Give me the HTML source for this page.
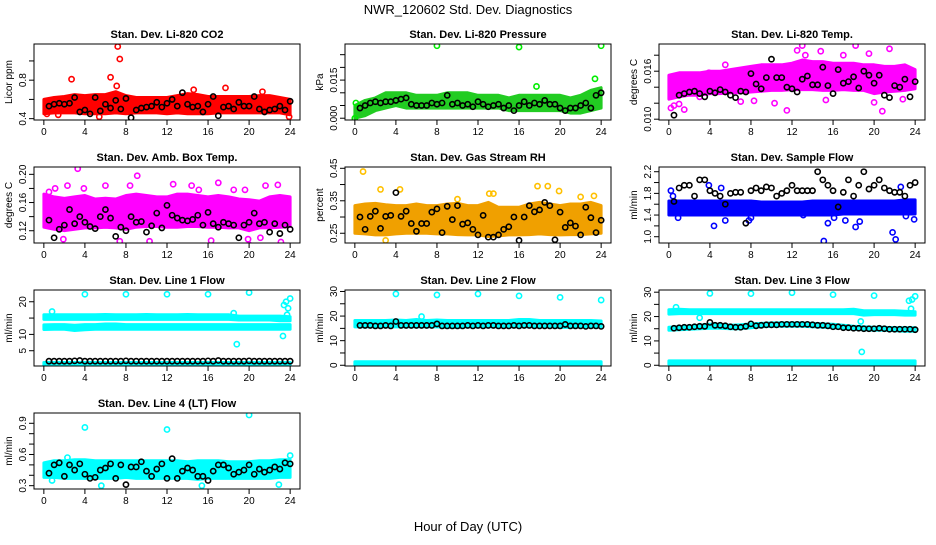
<!DOCTYPE html>
<html><head><meta charset="utf-8"><style>
body{margin:0;background:#fff;}
svg text{font-family:"Liberation Sans",Arial,sans-serif;}
</style></head><body>
<svg id="chart" width="936" height="540" viewBox="0 0 936 540" xmlns="http://www.w3.org/2000/svg">
<text x="468" y="14" font-size="13" text-anchor="middle">NWR_120602  Std. Dev. Diagnostics</text>
<text x="468" y="531" font-size="13" text-anchor="middle">Hour of Day (UTC)</text>
</svg>
<script>
const xTicks=[0,4,8,12,16,20,24];
const bandHours=[0,1,2,3,4,5,6,7,8,9,10,11,12,13,14,15,16,17,18,19,20,21,22,23,24];
const blackHours=[0.5,1,1.5,2,2.5,3,3.5,4,4.5,5,5.5,6,6.5,7,7.5,8,8.5,9,9.5,10,10.5,11,11.5,12,12.5,13,13.5,14,14.5,15,15.5,16,16.5,17,17.5,18,18.5,19,19.5,20,20.5,21,21.5,22,22.5,23,23.5,24];

// Panel 1 CO2
const co2Lo=[0.45,0.46,0.46,0.46,0.45,0.45,0.45,0.46,0.45,0.46,0.46,0.46,0.45,0.46,0.45,0.45,0.45,0.46,0.46,0.46,0.46,0.46,0.46,0.46,0.44];
const co2Hi=[0.60,0.62,0.63,0.65,0.64,0.65,0.65,0.68,0.64,0.62,0.62,0.62,0.62,0.64,0.66,0.65,0.63,0.63,0.63,0.63,0.63,0.64,0.64,0.62,0.60];
const co2OutH=[7.2,7.4,6.5,2.7,7.1,17.7,5.4,23.9,1.4,0.3,14.6,21.3];
const co2OutV=[1.15,1.02,0.83,0.81,0.74,0.72,0.42,0.42,0.44,0.45,0.70,0.68];
const co2Black=[0.53,0.55,0.56,0.55,0.56,0.62,0.47,0.49,0.45,0.62,0.48,0.55,0.51,0.59,0.50,0.61,0.41,0.49,0.51,0.52,0.53,0.57,0.52,0.56,0.60,0.53,0.67,0.55,0.52,0.53,0.47,0.55,0.63,0.43,0.52,0.53,0.50,0.57,0.53,0.53,0.63,0.50,0.47,0.49,0.50,0.53,0.49,0.58];
// Panel 2 pressure
const prLo=[0.000,0.001,0.003,0.004,0.005,0.004,0.004,0.004,0.004,0.004,0.004,0.004,0.004,0.004,0.004,0.003,0.003,0.003,0.003,0.003,0.003,0.002,0.002,0.003,0.004];
const prHi=[0.005,0.007,0.008,0.010,0.010,0.010,0.009,0.009,0.009,0.010,0.010,0.010,0.009,0.009,0.009,0.008,0.009,0.009,0.009,0.009,0.009,0.008,0.009,0.011,0.012];
const prOutH=[8,16,24,23.4,17.7,0,0.1];
const prOutV=[0.0285,0.028,0.0285,0.0155,0.0125,0.0,0.006];
const prBlack=[0.004,0.005,0.006,0.0065,0.006,0.0065,0.0065,0.007,0.0075,0.008,0.0055,0.005,0.005,0.005,0.006,0.0055,0.006,0.009,0.0055,0.006,0.005,0.0055,0.0045,0.0065,0.0055,0.0045,0.005,0.0055,0.004,0.005,0.003,0.005,0.0065,0.005,0.006,0.0055,0.007,0.0055,0.0055,0.004,0.003,0.004,0.004,0.005,0.006,0.004,0.009,0.010];
// Panel 3 Li-820 temp
const ltLo=[0.0125,0.0128,0.0130,0.0130,0.0132,0.0132,0.0133,0.0133,0.0134,0.0135,0.0136,0.0136,0.0137,0.0137,0.0137,0.0136,0.0136,0.0137,0.0136,0.0136,0.0132,0.0134,0.0135,0.0136,0.0138];
const ltHi=[0.0155,0.0158,0.0158,0.0158,0.0160,0.0160,0.0162,0.0164,0.0166,0.0168,0.0168,0.0168,0.0170,0.0174,0.0172,0.0172,0.0170,0.0170,0.0170,0.0168,0.0168,0.0166,0.0166,0.0168,0.0162];
const ltOutH=[0.2,0.5,1.0,1.5,1.8,2.5,3.0,5.5,7.0,8.3,10.3,11.5,13.0,13.3,14.8,15.3,18.2,19.5,20.0,20.8,21.5,22.8,3.9,12.5,17.0];
const ltOutV=[0.0114,0.0117,0.0119,0.0112,0.0147,0.0155,0.0128,0.0168,0.0122,0.0123,0.0120,0.0111,0.0192,0.0180,0.0185,0.0124,0.0192,0.0182,0.0121,0.0110,0.0188,0.0125,0.0158,0.0186,0.0180];
const ltBlack=[0.0105,0.0130,0.0132,0.0134,0.0135,0.0132,0.0128,0.0135,0.0133,0.0137,0.0134,0.0130,0.0127,0.0135,0.0134,0.0157,0.0144,0.0138,0.0152,0.0175,0.0152,0.0152,0.0140,0.0138,0.0134,0.0150,0.0154,0.0143,0.0143,0.0165,0.0142,0.0132,0.0162,0.0145,0.0147,0.0153,0.0139,0.0160,0.0155,0.0145,0.0155,0.0130,0.0127,0.0142,0.0140,0.0150,0.0128,0.0147];
// Panel 4 amb box temp
const abLo=[0.125,0.122,0.120,0.122,0.124,0.124,0.125,0.124,0.122,0.125,0.126,0.126,0.125,0.125,0.126,0.126,0.125,0.125,0.124,0.124,0.120,0.124,0.124,0.125,0.126];
const abHi=[0.172,0.168,0.166,0.168,0.170,0.165,0.166,0.165,0.170,0.172,0.170,0.168,0.168,0.172,0.172,0.170,0.168,0.170,0.168,0.165,0.164,0.162,0.168,0.170,0.168];
const abOutH=[0.5,1.1,2.3,3.3,3.9,6.0,7.4,8.4,9.1,10.3,14.4,15.1,17.0,18.5,19.9,19.6,20.0,21.1,21.6,22.8,23.1,1.9,12.6,16.3];
const abOutV=[0.175,0.180,0.184,0.208,0.180,0.184,0.105,0.184,0.198,0.105,0.184,0.178,0.188,0.178,0.108,0.178,0.100,0.110,0.184,0.185,0.104,0.108,0.186,0.106];
const abBlack=[0.135,0.110,0.122,0.128,0.150,0.130,0.140,0.132,0.126,0.123,0.140,0.150,0.138,0.112,0.125,0.120,0.140,0.132,0.133,0.118,0.127,0.145,0.124,0.156,0.142,0.138,0.135,0.134,0.136,0.142,0.128,0.146,0.130,0.125,0.132,0.130,0.128,0.110,0.128,0.132,0.145,0.130,0.132,0.118,0.130,0.116,0.128,0.122];
// Panel 5 gas stream RH
const rhLo=[0.250,0.248,0.245,0.245,0.248,0.250,0.250,0.250,0.248,0.248,0.246,0.245,0.245,0.240,0.242,0.245,0.245,0.246,0.248,0.246,0.245,0.246,0.246,0.248,0.250];
const rhHi=[0.335,0.340,0.342,0.338,0.335,0.335,0.340,0.335,0.335,0.340,0.342,0.335,0.335,0.345,0.330,0.330,0.330,0.340,0.345,0.340,0.335,0.340,0.340,0.345,0.335];
const rhOutH=[0.8,2.5,4.4,10.0,13.1,13.5,17.8,18.8,19.9,22.0,23.3,3.0];
const rhOutV=[0.440,0.385,0.385,0.355,0.372,0.372,0.395,0.395,0.380,0.362,0.365,0.228];
const rhBlack=[0.300,0.262,0.302,0.318,0.265,0.302,0.305,0.375,0.302,0.318,0.280,0.256,0.280,0.280,0.315,0.325,0.252,0.333,0.292,0.335,0.278,0.282,0.262,0.245,0.305,0.238,0.238,0.245,0.262,0.270,0.300,0.228,0.300,0.335,0.316,0.322,0.345,0.335,0.230,0.315,0.268,0.282,0.272,0.245,0.330,0.298,0.252,0.290];
// Panel 6 sample flow
const sfLo=[1.40,1.40,1.40,1.40,1.40,1.40,1.40,1.40,1.40,1.40,1.40,1.40,1.40,1.40,1.40,1.40,1.40,1.42,1.42,1.42,1.42,1.42,1.42,1.42,1.42];
const sfHi=[1.66,1.66,1.66,1.66,1.66,1.66,1.66,1.66,1.66,1.64,1.64,1.64,1.64,1.64,1.66,1.66,1.66,1.66,1.66,1.66,1.66,1.66,1.66,1.68,1.68];
const sfOutH=[0.2,0.4,0.9,3.9,4.4,5.1,5.5,7.8,8.0,15.1,15.5,16.1,17.2,18.2,18.6,21.8,22.1,23.1,23.9,13.1,22.6];
const sfOutV=[1.85,1.75,1.35,1.95,1.20,1.90,1.30,1.30,1.35,0.92,1.25,1.35,1.30,1.18,1.28,1.08,0.95,1.38,1.32,1.40,1.92];
const sfBlack=[1.65,1.90,1.95,1.95,1.75,2.05,2.05,1.85,1.80,1.75,1.60,1.80,1.82,1.82,1.25,1.85,1.90,1.85,1.92,1.90,1.75,1.80,1.85,1.95,1.85,1.85,1.85,1.85,2.20,2.05,1.95,1.85,1.55,1.82,2.05,1.75,1.95,2.20,1.88,1.95,2.05,1.90,1.85,1.82,1.82,1.75,1.95,2.00];
// Panel 7 line 1 flow
const l1aLo=[14.6,14.6,14.6,14.6,14.6,14.6,14.6,14.6,14.6,14.6,14.6,14.6,14.6,14.6,14.6,14.6,14.6,14.6,14.6,14.4,14.4,14.4,14.4,14.2,14.2];
const l1aHi=[16.0,16.0,16.0,16.0,16.0,16.0,16.1,16.0,16.0,16.0,16.1,16.0,16.0,16.0,16.1,16.0,16.0,16.0,16.0,15.6,15.6,15.6,15.6,15.6,15.4];
const l1bLo=[11.5,11.6,11.6,11.2,11.4,11.6,11.6,11.6,11.6,11.6,11.6,11.6,11.6,11.6,11.6,11.6,11.6,11.6,11.6,11.6,11.6,11.6,11.6,11.6,11.6];
const l1bHi=[12.9,13.0,13.0,12.8,13.0,13.0,13.2,13.2,13.0,13.0,13.0,13.0,13.0,13.0,13.0,13.0,13.0,13.0,13.0,13.0,13.0,13.0,13.0,13.0,13.0];
const l1cLo=[0.4,0.4,0.4,0.4,0.4,0.4,0.4,0.4,0.4,0.4,0.4,0.4,0.4,0.4,0.4,0.4,0.4,0.4,0.4,0.4,0.4,0.4,0.4,0.4,0.4];
const l1cHi=[1.4,1.4,1.4,1.4,1.4,1.4,1.4,1.4,1.4,1.4,1.4,1.4,1.4,1.4,1.4,1.4,1.4,1.4,1.4,1.4,1.4,1.4,1.4,1.4,1.4];
const l1OutH=[4,8,12,16,20,23.6,23.4,23.8,23.7,24,23.3,18.8,0.8,18.5];
const l1OutV=[22.3,22.3,22.3,22.3,22.8,20.0,19.0,18.0,16.0,21.0,9.5,7.0,17.0,16.5];
const l1Black=[1.8,1.8,1.8,1.8,1.8,1.9,2.0,1.8,1.8,1.8,1.8,1.8,1.8,1.8,1.8,1.9,1.8,1.8,1.8,1.8,1.8,1.8,1.8,1.8,1.8,1.8,1.8,1.8,1.8,1.8,1.8,1.9,1.8,2.0,1.8,1.8,1.8,1.8,1.8,1.9,1.8,1.8,1.8,1.8,1.8,1.8,1.8,1.8];
// Panel 8 line 2 flow
const l2aLo=[15.6,15.6,15.6,15.6,15.6,15.6,15.6,15.6,15.6,15.4,15.4,15.6,15.6,15.6,15.6,15.6,15.6,15.6,15.6,15.6,15.4,15.4,15.6,15.6,15.6];
const l2aHi=[18.2,18.2,18.2,18.2,18.4,18.2,18.6,18.2,18.4,18.2,18.2,18.2,18.2,18.2,18.2,18.2,18.6,18.6,18.2,18.2,18.2,18.2,18.2,18.2,18.0];
const l2cLo=[0.0,0.0,0.0,0.0,0.0,0.0,0.0,0.0,0.0,0.0,0.0,0.0,0.0,0.0,0.0,0.0,0.0,0.0,0.0,0.0,0.0,0.0,0.0,0.0,0.0];
const l2cHi=[1.4,1.4,1.4,1.4,1.4,1.4,1.4,1.4,1.4,1.4,1.4,1.4,1.4,1.4,1.4,1.4,1.4,1.4,1.4,1.4,1.4,1.4,1.4,1.4,1.4];
const l2OutH=[4,8,12,16,20,24,6.5];
const l2OutV=[29.0,28.6,29.0,28.2,27.6,26.5,19.8];
const l2Black=[16.2,16.2,16.2,16.0,16.0,16.2,16.0,17.8,16.2,16.2,16.2,16.2,16.2,16.2,16.2,16.8,16.0,16.0,16.0,16.0,16.0,16.2,16.0,16.2,16.0,16.2,16.2,16.0,16.0,16.0,16.2,16.0,16.2,16.2,16.0,16.0,16.0,16.0,16.0,16.0,16.6,16.0,16.0,16.0,15.8,16.0,16.0,15.8];
// Panel 9 line 3 flow
const l3aLo=[21.0,21.2,21.2,21.2,21.2,21.2,21.2,21.2,21.2,21.2,21.2,21.2,21.2,21.2,21.2,21.2,21.2,21.2,21.2,20.6,20.8,20.8,20.8,20.6,20.6];
const l3aHi=[22.8,23.0,22.8,22.8,22.8,22.8,22.8,22.8,22.8,22.8,22.8,22.8,22.8,22.8,22.8,22.8,22.8,22.8,23.0,22.4,22.4,22.4,22.4,22.2,22.0];
const l3bLo=[14.4,14.6,14.8,15.0,15.2,15.2,15.0,15.0,15.4,15.8,16.0,16.0,16.0,16.0,15.8,15.6,15.4,15.2,14.8,14.6,14.4,14.4,14.2,14.0,14.0];
const l3bHi=[15.6,15.8,16.0,16.4,16.8,16.8,16.4,16.6,17.0,17.2,17.4,17.4,17.4,17.4,17.2,17.0,16.8,16.4,16.0,15.8,15.6,15.6,15.4,15.4,15.4];
const l3cLo=[0.4,0.4,0.4,0.4,0.4,0.4,0.4,0.4,0.4,0.4,0.4,0.4,0.4,0.4,0.4,0.4,0.4,0.4,0.4,0.4,0.4,0.4,0.4,0.4,0.4];
const l3cHi=[1.8,1.8,1.8,1.8,1.8,1.8,1.8,1.8,1.8,1.8,1.8,1.8,1.8,1.8,1.8,1.8,1.8,1.8,1.8,1.8,1.8,1.8,1.8,1.8,1.8];
const l3OutH=[4,8,12,16,20,24,23.4,23.7,23.6,18.8,18.7,0.7,3.0];
const l3OutV=[29.5,29.4,29.8,29.0,28.6,28.3,26.5,27.0,23.2,5.5,18.0,23.8,19.5];
const l3Black=[15.2,15.4,15.6,15.6,15.8,16.0,16.0,17.6,16.4,16.4,16.2,15.8,15.6,15.6,16.0,17.0,16.2,16.4,16.6,16.6,16.6,16.8,16.8,16.8,16.8,16.8,16.8,16.6,16.4,16.4,16.2,15.8,15.8,15.4,15.4,15.2,15.2,15.0,15.0,15.0,15.2,15.0,14.8,14.8,14.8,14.8,14.8,14.6];
// Panel 10 line 4 flow
const l4Lo=[0.38,0.38,0.37,0.37,0.37,0.37,0.37,0.37,0.38,0.37,0.37,0.37,0.37,0.37,0.37,0.36,0.37,0.37,0.37,0.37,0.37,0.37,0.37,0.38,0.38];
const l4Hi=[0.52,0.54,0.54,0.55,0.55,0.54,0.54,0.54,0.54,0.54,0.54,0.54,0.54,0.54,0.53,0.54,0.54,0.54,0.53,0.53,0.53,0.54,0.54,0.55,0.55];
const l4OutH=[4,12,20,24,5.6,15.4,22.9,0.8,2.3];
const l4OutV=[0.86,0.84,0.98,0.59,0.30,0.30,0.31,0.35,0.57];
const l4Black=[0.42,0.50,0.52,0.39,0.50,0.45,0.51,0.41,0.37,0.38,0.45,0.47,0.51,0.37,0.50,0.31,0.48,0.48,0.53,0.44,0.39,0.46,0.51,0.37,0.56,0.37,0.44,0.47,0.45,0.39,0.39,0.35,0.44,0.50,0.50,0.47,0.41,0.43,0.45,0.50,0.41,0.46,0.43,0.45,0.48,0.46,0.52,0.51];

const NS='http://www.w3.org/2000/svg';
const svg=document.getElementById('chart');
const colL=[34,345,659], W=266, rowB=[120,243,366,489], H=76;
function mk(tag,attrs,parent){const e=document.createElementNS(NS,tag);for(const k in attrs)e.setAttribute(k,attrs[k]);(parent||svg).appendChild(e);return e;}

function panel(p){
  const L=colL[p.col], B=rowB[p.row], T=B-H, R=L+W;
  const g=mk('g',{});
  
  
  const xs=h=>L+(h+0.96)/25.92*W;
  const ys=v=>B-(v-p.yd[0])/(p.yd[1]-p.yd[0])*H;
  const clip='c'+p.name;
  const cp=mk('clipPath',{id:clip},g);mk('rect',{x:L,y:T,width:W,height:H},cp);
  const pg=mk('g',{'clip-path':'url(#'+clip+')'},g);
  p.bands.forEach(b=>{
    let d='';
    bandHours.forEach((h,i)=>{d+=(i?'L':'M')+xs(h).toFixed(1)+','+ys(b[1][i]).toFixed(1);});
    for(let i=bandHours.length-1;i>=0;i--)d+='L'+xs(bandHours[i]).toFixed(1)+','+ys(b[0][i]).toFixed(1);
    const e=mk('path',{d:d+'Z',fill:p.fill,stroke:p.fill,'stroke-width':3,'stroke-linejoin':'round'},pg);
    
    
  });
  p.outH.forEach((h,i)=>{
    const c=mk('circle',{cx:xs(h),cy:ys(p.outV[i]),r:2.6,fill:'none',stroke:p.col2,'stroke-width':1.6},pg);
    
    
  });
  blackHours.forEach((h,i)=>{
    const c=mk('circle',{cx:xs(h),cy:ys(p.black[i]),r:2.6,fill:'none',stroke:'#000','stroke-width':1.6},pg);
    
    
  });
  const box=mk('rect',{x:L,y:T,width:W,height:H,fill:'none',stroke:'#000','stroke-width':1},g);
  
  
  xTicks.forEach(t=>{
    const x=xs(t);
    mk('line',{x1:x,x2:x,y1:B,y2:B+5,stroke:'#000'},g);
    const tx=mk('text',{x:x,y:B+15,'font-size':10,'text-anchor':'middle'},g);tx.textContent=t;
    
    
  });
  mk('line',{x1:xs(0),x2:xs(24),y1:B,y2:B,stroke:'#000'},g);
  p.yt.forEach((t,i)=>{
    const y=ys(t);
    mk('line',{x1:L,x2:L-5,y1:y,y2:y,stroke:'#000'},g);
    if(p.yl[i]!==''){
      const tx=mk('text',{x:L-8,y:y,'font-size':10,'text-anchor':'middle',transform:'rotate(-90 '+(L-8)+' '+y+')'},g);tx.textContent=p.yl[i];
      
      
    }
  });
  const cy=(T+B)/2;
  const yl=mk('text',{x:L-22,y:cy,'font-size':10,'text-anchor':'middle',transform:'rotate(-90 '+(L-22)+' '+cy+')'},g);yl.textContent=p.ylab;
  
  
  const tt=mk('text',{x:L+W/2,y:T-6,'font-size':11,'font-weight':'bold','text-anchor':'middle'},g);tt.textContent=p.title;
  
  
}

panel({name:'co2-panel',col:0,row:0,yd:[0.386,1.176],yt:[0.4,0.6,0.8,1.0],yl:['0.4','','0.8',''],ylab:'Licor ppm',title:'Stan. Dev. Li-820 CO2',fill:'#ff0000',col2:'#ff0000',bands:[[co2Lo,co2Hi]],outH:co2OutH,outV:co2OutV,black:co2Black});
panel({name:'pressure-panel',col:1,row:0,yd:[-0.0007,0.0292],yt:[0,0.005,0.01,0.015,0.02,0.025],yl:['0.000','','','0.015','',''],ylab:'kPa',title:'Stan. Dev. Li-820 Pressure',fill:'#22cc22',col2:'#00ee00',bands:[[prLo,prHi]],outH:prOutH,outV:prOutV,black:prBlack});
panel({name:'li820-temp-panel',col:2,row:0,yd:[0.0099,0.0194],yt:[0.010,0.012,0.014,0.016,0.018],yl:['0.010','','','0.016',''],ylab:'degrees C',title:'Stan. Dev. Li-820 Temp.',fill:'#ff00ff',col2:'#ff00ff',bands:[[ltLo,ltHi]],outH:ltOutH,outV:ltOutV,black:ltBlack});
panel({name:'amb-box-temp-panel',col:0,row:1,yd:[0.1026,0.2104],yt:[0.12,0.14,0.16,0.18,0.20],yl:['0.12','','0.16','','0.20'],ylab:'degrees C',title:'Stan. Dev. Amb. Box Temp.',fill:'#ff00ff',col2:'#ff00ff',bands:[[abLo,abHi]],outH:abOutH,outV:abOutV,black:abBlack});
panel({name:'gas-rh-panel',col:1,row:1,yd:[0.220,0.454],yt:[0.25,0.30,0.35,0.40,0.45],yl:['0.25','','0.35','','0.45'],ylab:'percent',title:'Stan. Dev. Gas Stream RH',fill:'#f0a000',col2:'#ffc000',bands:[[rhLo,rhHi]],outH:rhOutH,outV:rhOutV,black:rhBlack});
panel({name:'sample-flow-panel',col:2,row:1,yd:[0.884,2.287],yt:[1.0,1.2,1.4,1.6,1.8,2.0,2.2],yl:['1.0','','1.4','','1.8','','2.2'],ylab:'ml/min',title:'Stan. Dev. Sample Flow',fill:'#0000ff',col2:'#0000ff',bands:[[sfLo,sfHi]],outH:sfOutH,outV:sfOutV,black:sfBlack});
panel({name:'line1-flow-panel',col:0,row:2,yd:[0.32,23.6],yt:[5,10,15,20],yl:['5','10','','20'],ylab:'ml/min',title:'Stan. Dev. Line 1 Flow',fill:'#00ffff',col2:'#00ffff',bands:[[l1aLo,l1aHi],[l1bLo,l1bHi],[l1cLo,l1cHi]],outH:l1OutH,outV:l1OutV,black:l1Black});
panel({name:'line2-flow-panel',col:1,row:2,yd:[-0.3,30.6],yt:[0,5,10,15,20,25,30],yl:['0','','10','','20','','30'],ylab:'ml/min',title:'Stan. Dev. Line 2 Flow',fill:'#00ffff',col2:'#00ffff',bands:[[l2aLo,l2aHi],[l2cLo,l2cHi]],outH:l2OutH,outV:l2OutV,black:l2Black});
panel({name:'line3-flow-panel',col:2,row:2,yd:[-0.3,30.9],yt:[0,5,10,15,20,25,30],yl:['0','','10','','20','','30'],ylab:'ml/min',title:'Stan. Dev. Line 3 Flow',fill:'#00ffff',col2:'#00ffff',bands:[[l3aLo,l3aHi],[l3bLo,l3bHi],[l3cLo,l3cHi]],outH:l3OutH,outV:l3OutV,black:l3Black});
panel({name:'line4-flow-panel',col:0,row:3,yd:[0.268,0.999],yt:[0.3,0.4,0.5,0.6,0.7,0.8,0.9],yl:['0.3','','','0.6','','','0.9'],ylab:'ml/min',title:'Stan. Dev. Line 4 (LT) Flow',fill:'#00ffff',col2:'#00ffff',bands:[[l4Lo,l4Hi]],outH:l4OutH,outV:l4OutV,black:l4Black});
</script>
</body></html>
